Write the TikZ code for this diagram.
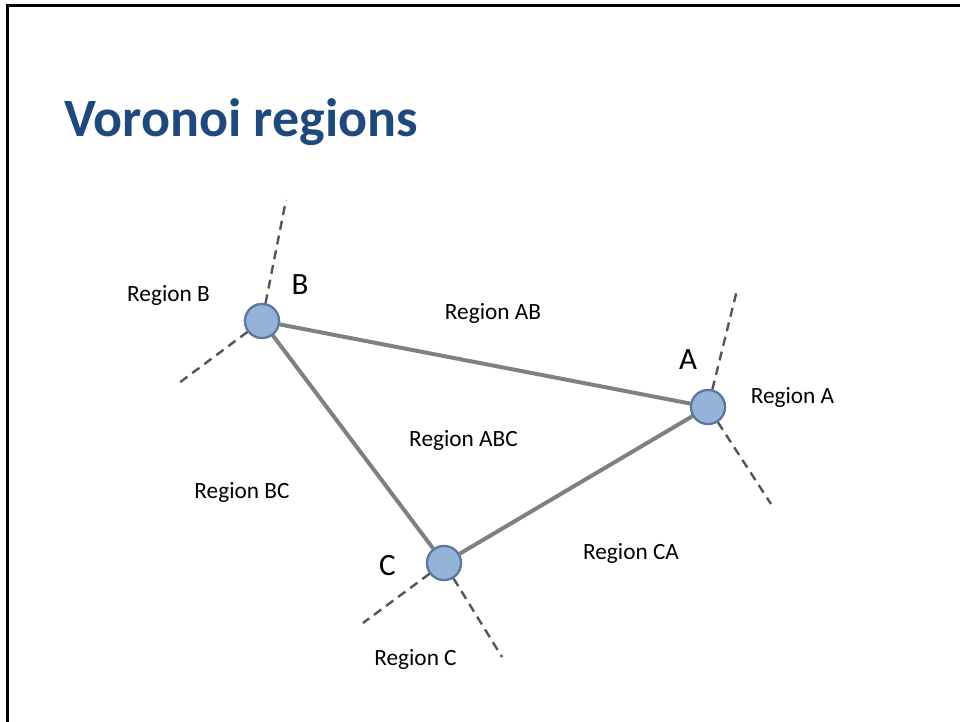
\documentclass[tikz,border=0pt]{standalone}
\usepackage{fontspec}
\setmainfont{Carlito}
\begin{document}
\begin{tikzpicture}[x=1pt,y=-1pt,
  site/.style={circle,draw=siteedge,fill=sitefill,line width=2.2pt,minimum size=34pt,inner sep=0pt},
  edge/.style={draw=edgegray,line width=4pt},
  bisector/.style={draw=dashgray,line width=2.4pt,dash pattern=on 9pt off 6pt},
  region/.style={anchor=base,font=\fontsize{23.3}{28}\selectfont,text=black,inner sep=0pt},
  sitename/.style={anchor=base,font=\fontsize{31}{36}\selectfont,text=black,inner sep=0pt},
  title/.style={anchor=base west,font=\fontsize{54}{60}\selectfont\bfseries,text=titleblue,inner sep=0pt}]
\definecolor{titleblue}{RGB}{31,73,125}
\definecolor{sitefill}{RGB}{149,179,215}
\definecolor{siteedge}{RGB}{90,120,160}
\definecolor{edgegray}{RGB}{128,128,128}
\definecolor{dashgray}{RGB}{85,85,85}
\useasboundingbox (0,0) rectangle (960,722);
% slide frame
\draw[line width=3pt,black] (7,722) -- (7,6) -- (960,6);

\node[title] (ttl) at (64,137) {Voronoi regions};

% bisector ends
\coordinate (bUp) at (286,200);
\coordinate (bLow) at (179,383);
\coordinate (aUp) at (737,290);
\coordinate (aLow) at (771,504);
\coordinate (cLeft) at (363,623);
\coordinate (cLow) at (502,657);

% sites
\node[site] (B) at (262,321) {};
\node[site] (A) at (708,407) {};
\node[site] (C) at (444,563) {};

\draw[bisector] (B) -- (bUp);
\draw[bisector] (B) -- (bLow);
\draw[bisector] (A) -- (aUp);
\draw[bisector] (A) -- (aLow);
\draw[bisector] (C) -- (cLeft);
\draw[bisector] (C) -- (cLow);

\draw[edge] (B) -- (A);
\draw[edge] (A) -- (C);
\draw[edge] (C) -- (B);

% redraw the sites over the edge ends
\node[site] at (B) {};
\node[site] at (A) {};
\node[site] at (C) {};

\node[sitename] (lB) at (300,294) {B};
\node[sitename] (lA) at (688,369) {A};
\node[sitename] (lC) at (387.5,575) {C};

\node[region] (rB) at (168.5,301) {Region B};
\node[region] (rAB) at (493,319) {Region AB};
\node[region] (rA) at (792.5,403) {Region A};
\node[region] (rABC) at (463.5,446) {Region ABC};
\node[region] (rBC) at (242,498) {Region BC};
\node[region] (rCA) at (631,559) {Region CA};
\node[region] (rC) at (415.5,665) {Region C};
\end{tikzpicture}
\end{document}
